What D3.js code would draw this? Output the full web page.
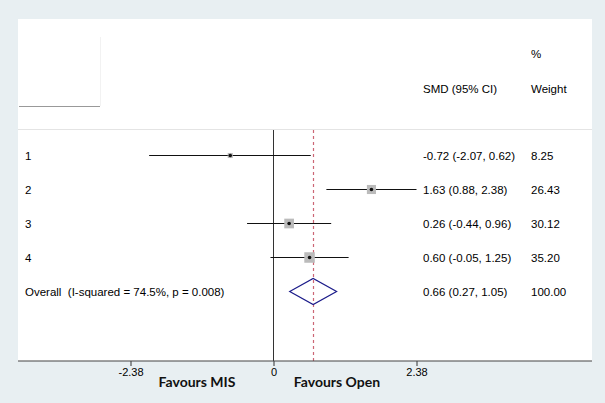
<!DOCTYPE html>
<html>
<head>
<meta charset="utf-8">
<script src="https://cdn.jsdelivr.net/npm/d3@7"></script>
<style>
  body { margin: 0; background: #e8eff2; }
  svg { display: block; }
  .tbl { font-family: "Liberation Sans", Arial, sans-serif; font-size: 11.5px; fill: #000; }
  .fav { font-family: Lato, sans-serif; font-weight: bold; font-size: 14px; fill: #111; }
</style>
</head>
<body>
<div id="chart"></div>
<script>
const studies = ["1", "2", "3", "4"];
const smd = [-0.72, 1.63, 0.26, 0.60];
const lower = [-2.07, 0.88, -0.44, -0.05];
const upper = [0.62, 2.38, 0.96, 1.25];
const weights = ["8.25", "26.43", "30.12", "35.20"];
const ciLabels = ["-0.72 (-2.07, 0.62)", "1.63 (0.88, 2.38)", "0.26 (-0.44, 0.96)", "0.60 (-0.05, 1.25)"];
const overall = { label: "Overall\u00a0 (I-squared = 74.5%, p = 0.008)", est: 0.66, lo: 0.27, hi: 1.05, ci: "0.66 (0.27, 1.05)", weight: "100.00" };
const tickValues = [-2.38, 0, 2.38];
const tickLabels = ["-2.38", "0", "2.38"];

const W = 605, H = 403;
const svg = d3.select("#chart").append("svg")
  .attr("width", W).attr("height", H);

// white plot panel
const panel = { left: 18, top: 19, right: 592, bottom: 361 };
svg.append("rect")
  .attr("x", panel.left).attr("y", panel.top)
  .attr("width", panel.right - panel.left).attr("height", panel.bottom - panel.top)
  .attr("fill", "#fff");

const x = d3.scaleLinear().domain([-2.38, 2.38]).range([130.5, 416.5]);
const rows = studies.concat(["overall"]);
const y = d3.scalePoint().domain(rows).range([155.5, 291.5]);
const px = v => Math.round(x(v) - 0.5) + 0.5;

// header separator bits
svg.append("line")
  .attr("x1", 19).attr("x2", 100).attr("y1", 106.5).attr("y2", 106.5)
  .attr("stroke", "#999").attr("stroke-width", 1.2);
svg.append("line")
  .attr("x1", 100.5).attr("x2", 100.5).attr("y1", 37).attr("y2", 106)
  .attr("stroke", "#f2f2f2");
svg.append("line")
  .attr("x1", panel.left).attr("x2", panel.right).attr("y1", 129.5).attr("y2", 129.5)
  .attr("stroke", "#e4e4e4");

// reference lines
svg.append("line")
  .attr("x1", px(0)).attr("x2", px(0)).attr("y1", 130).attr("y2", panel.bottom)
  .attr("stroke", "#333").attr("stroke-width", 1);
svg.append("line")
  .attr("x1", px(overall.est)).attr("x2", px(overall.est)).attr("y1", 130).attr("y2", panel.bottom)
  .attr("stroke", "#cc6675").attr("stroke-width", 1.2).attr("stroke-dasharray", "3,3");

// study markers
const studyData = studies.map((s, i) => ({ s, est: smd[i], lo: lower[i], hi: upper[i], w: +weights[i], ci: ciLabels[i], wl: weights[i] }));
const size = d3.scaleSqrt().domain([0, 35.2]).range([0, 10.5]);

const g = svg.append("g");
g.selectAll(".ci").data(studyData).enter().append("line")
  .attr("x1", d => x(d.lo)).attr("x2", d => x(d.hi))
  .attr("y1", d => y(d.s)).attr("y2", d => y(d.s))
  .attr("stroke", "#111").attr("stroke-width", 1.2);
g.selectAll(".box").data(studyData).enter().append("rect")
  .attr("x", d => x(d.est) - size(d.w) / 2)
  .attr("y", d => y(d.s) - size(d.w) / 2)
  .attr("width", d => size(d.w)).attr("height", d => size(d.w))
  .attr("fill", "#bbb");
g.selectAll(".dot").data(studyData).enter().append("circle")
  .attr("cx", d => x(d.est)).attr("cy", d => y(d.s)).attr("r", 1.8)
  .attr("fill", "#111");

// overall diamond
const yo = y("overall");
svg.append("path")
  .attr("d", `M${x(overall.lo)},${yo} L${x(overall.est)},${yo - 13} L${x(overall.hi)},${yo} L${x(overall.est)},${yo + 13} Z`)
  .attr("fill", "none").attr("stroke", "#1c1c8a").attr("stroke-width", 1.2);

// table text
const txt = svg.append("g").attr("class", "tbl");
txt.selectAll(".lab").data(studyData).enter().append("text")
  .attr("x", 25).attr("y", d => y(d.s)).attr("dy", "0.35em").text(d => d.s);
txt.selectAll(".cil").data(studyData).enter().append("text")
  .attr("x", 423).attr("y", d => y(d.s)).attr("dy", "0.35em").text(d => d.ci);
txt.selectAll(".wl").data(studyData).enter().append("text")
  .attr("x", 531).attr("y", d => y(d.s)).attr("dy", "0.35em").text(d => d.wl);
txt.append("text").attr("x", 25).attr("y", yo).attr("dy", "0.35em").text(overall.label);
txt.append("text").attr("x", 423).attr("y", yo).attr("dy", "0.35em").text(overall.ci);
txt.append("text").attr("x", 531).attr("y", yo).attr("dy", "0.35em").text(overall.weight);
txt.append("text").attr("x", 531).attr("y", 54).attr("dy", "0.35em").text("%");
txt.append("text").attr("x", 423).attr("y", 89).attr("dy", "0.35em").text("SMD (95% CI)");
txt.append("text").attr("x", 531).attr("y", 89).attr("dy", "0.35em").text("Weight");

// x axis
const axis = svg.append("g")
  .attr("transform", `translate(0,${panel.bottom})`)
  .call(d3.axisBottom(x).tickValues(tickValues).tickFormat((d, i) => tickLabels[i]).tickSize(5).tickPadding(2));
axis.select(".domain").remove();
axis.selectAll(".tick line").attr("stroke", "#333");
axis.selectAll(".tick text").attr("font-family", "Liberation Sans, Arial, sans-serif").attr("font-size", 11).attr("fill", "#000");
svg.append("line")
  .attr("x1", panel.left).attr("x2", panel.right).attr("y1", panel.bottom).attr("y2", panel.bottom)
  .attr("stroke", "#444").attr("stroke-width", 1.2);

svg.append("text").attr("class", "fav").attr("x", 197).attr("y", 387).attr("text-anchor", "middle").text("Favours MIS");
svg.append("text").attr("class", "fav").attr("x", 337).attr("y", 387).attr("text-anchor", "middle").text("Favours Open");
</script>
</body>
</html>
